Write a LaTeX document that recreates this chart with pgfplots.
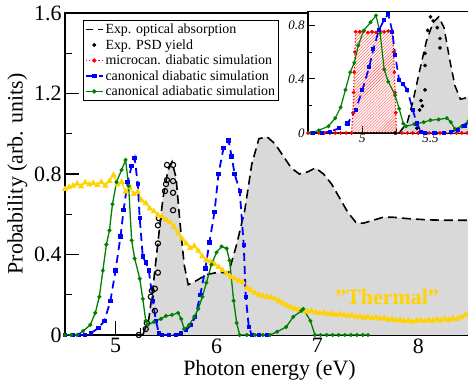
\documentclass[border=0pt]{standalone}
\usepackage{fontspec}
\setmainfont{Liberation Serif}
\usepackage{pgfplots}
\usepackage{pgfplotstable}
\pgfplotsset{compat=1.18}
\usetikzlibrary{patterns}

\definecolor{thermal}{RGB}{255,210,0}
\definecolor{dgreen}{RGB}{0,128,0}
\definecolor{lgrey}{RGB}{217,217,217}

\pgfplotstableread{
x y
5.27 0.0
5.33 0.08
5.37 0.23
5.42 0.46
5.47 0.68
5.52 0.82
5.56 0.86
5.60 0.78
5.64 0.55
5.68 0.35
5.72 0.25
5.80 0.27
5.90 0.30
6.00 0.31
6.12 0.31
6.20 0.45
6.28 0.62
6.35 0.85
6.42 0.975
6.50 0.985
6.58 0.95
6.66 0.89
6.74 0.83
6.82 0.80
6.90 0.81
6.98 0.83
7.06 0.80
7.14 0.75
7.22 0.68
7.30 0.61
7.38 0.56
7.45 0.555
7.55 0.57
7.65 0.585
7.75 0.585
7.90 0.578
8.10 0.572
8.30 0.57
8.55 0.57
}\absorb

\pgfplotstableread{
x y
5.23 0.0
5.30 0.03
5.31 0.06
5.35 0.19
5.36 0.22
5.39 0.12
5.39 0.23
5.42 0.31
5.42 0.455
5.42 0.545
5.43 0.58
5.49 0.715
5.50 0.75
5.51 0.77
5.51 0.845
5.57 0.845
5.57 0.765
5.57 0.707
5.57 0.62
}\psdmain

\pgfplotstableread{
x y
5.24 0.0
5.40 0.035
5.42 0.17
5.43 0.24
5.44 0.20
5.46 0.32
5.46 0.50
5.46 0.59
5.48 0.76
5.50 0.86
5.52 0.83
5.55 0.78
5.57 0.70
5.57 0.63
}\psdinset

\pgfplotstableread{
x y
4.50 0.0
4.58 0.0
4.64 0.0
4.70 0.0
4.76 0.01
4.83 0.035
4.89 0.07
4.95 0.17
5.00 0.32
5.05 0.49
5.08 0.62
5.12 0.76
5.16 0.84
5.19 0.88
5.22 0.75
5.24 0.58
5.27 0.39
5.30 0.36
5.33 0.32
5.37 0.17
5.40 0.07
5.43 0.01
5.46 0.0
5.53 0.0
5.60 0.0
5.65 0.01
5.70 0.025
5.75 0.05
5.79 0.09
5.84 0.20
5.89 0.33
5.93 0.46
5.98 0.61
6.02 0.80
6.07 0.93
6.12 0.967
6.15 0.886
6.18 0.80
6.23 0.716
6.27 0.447
6.29 0.19
6.32 0.04
6.35 0.0
6.42 0.0
6.50 0.0
}\diab

\pgfplotstableread{
x y
4.50 0.0
4.56 0.0
4.62 0.0
4.68 0.02
4.75 0.05
4.80 0.11
4.84 0.19
4.875 0.32
4.91 0.45
4.94 0.52
4.97 0.65
5.01 0.76
5.06 0.82
5.10 0.87
5.13 0.74
5.16 0.47
5.19 0.38
5.24 0.28
5.27 0.18
5.30 0.07
5.32 0.05
5.38 0.065
5.45 0.08
5.50 0.095
5.56 0.10
5.62 0.11
5.65 0.08
5.68 0.03
5.73 0.05
5.78 0.09
5.82 0.13
5.86 0.19
5.90 0.26
5.95 0.35
6.00 0.41
6.05 0.44
6.10 0.43
6.13 0.37
6.17 0.17
6.20 0.06
6.23 0.0
6.30 0.0
6.38 0.0
6.46 0.0
6.53 0.0
6.60 0.016
6.69 0.04
6.76 0.09
6.84 0.12
6.86 0.13
6.93 0.07
6.975 0.0
7.03 0.0
7.09 0.0
7.15 0.0
7.21 0.0
7.27 0.0
7.33 0.0
7.39 0.0
7.45 0.0
7.50 0.0
}\adiab

\pgfplotstableread{
x y
4.60 0
4.64 0
4.68 0
4.72 0
4.76 0
4.80 0
4.84 0
4.88 0
4.92 0
4.93 0.15
4.935 0.30
4.94 0.45
4.945 0.60
4.95 0.75
4.98 0.75
5.01 0.755
5.04 0.745
5.07 0.75
5.10 0.745
5.13 0.755
5.16 0.75
5.19 0.755
5.22 0.745
5.23 0.60
5.235 0.45
5.24 0.30
5.245 0.15
5.25 0
5.29 0
5.33 0
5.37 0
5.41 0
5.45 0
5.49 0
5.53 0
5.57 0
5.61 0
5.65 0
5.69 0
5.73 0
5.77 0
5.82 0
}\micro

\pgfplotstableread{
x y
4.50 0.725
4.54 0.735
4.58 0.742
4.62 0.752
4.66 0.738
4.70 0.758
4.74 0.748
4.78 0.755
4.82 0.745
4.86 0.760
4.90 0.742
4.94 0.765
4.98 0.795
5.02 0.748
5.06 0.760
5.10 0.712
5.14 0.735
5.18 0.700
5.22 0.712
5.26 0.668
5.30 0.655
5.34 0.628
5.38 0.615
5.42 0.596
5.46 0.590
5.50 0.572
5.54 0.560
5.58 0.538
5.62 0.505
5.66 0.478
5.70 0.455
5.74 0.432
5.78 0.442
5.82 0.418
5.86 0.390
5.90 0.372
5.94 0.365
5.98 0.352
6.02 0.338
6.06 0.322
6.10 0.305
6.14 0.288
6.18 0.280
6.22 0.270
6.26 0.262
6.30 0.235
6.34 0.222
6.38 0.210
6.42 0.198
6.46 0.194
6.50 0.190
6.54 0.186
6.58 0.180
6.62 0.168
6.66 0.158
6.70 0.145
6.74 0.138
6.78 0.130
6.82 0.125
6.86 0.122
6.90 0.116
6.94 0.120
6.98 0.112
7.02 0.108
7.06 0.110
7.10 0.103
7.14 0.106
7.18 0.100
7.22 0.104
7.26 0.098
7.30 0.095
7.34 0.099
7.38 0.090
7.42 0.092
7.46 0.086
7.50 0.090
7.54 0.084
7.58 0.087
7.62 0.080
7.66 0.083
7.70 0.076
7.74 0.078
7.78 0.072
7.82 0.075
7.86 0.068
7.90 0.072
7.94 0.066
7.98 0.071
8.02 0.074
8.06 0.068
8.10 0.076
8.14 0.070
8.18 0.078
8.22 0.072
8.26 0.080
8.30 0.074
8.34 0.082
8.38 0.078
8.42 0.088
8.46 0.098
8.50 0.105
}\thermaldata

\begin{document}
\begin{tikzpicture}
\begin{axis}[
  at={(65bp,50bp)}, anchor=south west,
  scale only axis, width=409bp, height=322bp,
  xmin=4.5, xmax=8.55, ymin=0, ymax=1.6,
  xtick={5,6,7,8}, ytick={0,0.4,0.8,1.2,1.6},
  minor x tick num=3, minor y tick num=1,
  tick align=inside, xtick pos=bottom, ytick pos=left,
  major tick length=14bp, minor tick length=7bp,
  every tick/.style={line width=1.2bp, black},
  axis line style={line width=1.6bp},
  /pgf/number format/assume math mode=true,
  ticklabel style={font=\fontsize{22}{24}\selectfont},
  label style={font=\fontsize{22}{24}\selectfont},
  xlabel={Photon energy (eV)},
  ylabel={Probability (arb. units)},
  legend cell align=left,
  legend style={at={(0.044,0.978)}, anchor=north west, draw=black, line width=0.8bp,
    font=\fontsize{14}{15}\selectfont, inner sep=1.5bp, row sep=0.3bp, fill=white},
]
\addlegendimage{black, dash pattern=on 7bp off 5bp, line width=1.5bp}
\addlegendentry{Exp. optical absorption}
\addlegendimage{only marks, mark=*, mark size=1.6bp, black}
\addlegendentry{Exp. PSD yield}
\addlegendimage{red, dotted, line width=1.2bp, mark=*, mark size=1.5bp, mark options={solid}}
\addlegendentry{microcan. diabatic simulation}
\addlegendimage{blue, dash pattern=on 8bp off 5bp, line width=1.6bp, mark=square*, mark size=1.5bp, mark options={solid}}
\addlegendentry{canonical diabatic simulation}
\addlegendimage{dgreen, line width=1.3bp, mark=*, mark size=1.5bp}
\addlegendentry{canonical adiabatic simulation}

\addplot[fill=lgrey, draw=none, forget plot] table {\absorb} \closedcycle;
\addplot[black, dash pattern=on 9bp off 5bp, line width=1.6bp, forget plot] table {\absorb};
\addplot[only marks, mark=o, mark size=2.6bp, black, mark options={line width=1.1bp}, forget plot] table {\psdmain};
\addplot[thermal, line width=1.4bp, mark=triangle*, mark size=2.3bp, forget plot] table {\thermaldata};
\addplot[blue, dash pattern=on 8bp off 5bp, line width=1.8bp, mark=square*, mark size=1.3bp, mark options={solid}, forget plot] table {\diab};
\addplot[dgreen, line width=1.3bp, mark=*, mark size=1.3bp, forget plot] table {\adiab};
\node[text=thermal, font=\fontsize{22}{24}\selectfont\bfseries] at (axis cs:7.69,0.19) {"Thermal"};
\end{axis}

\begin{axis}[
  at={(308bp,252bp)}, anchor=south west,
  scale only axis, width=166bp, height=121.5bp,
  xmin=4.6, xmax=5.82, ymin=0, ymax=0.9,
  xtick={5,5.5}, ytick={0,0.4,0.8},
  minor x tick num=1, minor y tick num=1,
  tick align=inside, xtick pos=bottom, ytick pos=left,
  major tick length=7bp, minor tick length=4bp,
  every tick/.style={line width=1bp, black},
  axis line style={line width=1.4bp},
  axis background/.style={fill=white},
  /pgf/number format/assume math mode=true,
  ticklabel style={font=\fontsize{13}{15}\selectfont\itshape},
  xticklabel style={yshift=2bp},
]
\addplot[fill=lgrey, draw=none] table {\absorb} \closedcycle;
\addplot[pattern=north east lines, pattern color=red!70, draw=none] table {\micro} \closedcycle;
\addplot[red, dotted, line width=1.2bp, mark=*, mark size=1.2bp, mark options={solid}] table {\micro};
\addplot[dgreen, line width=1.2bp, mark=*, mark size=1.3bp] table {\adiab};
\addplot[blue, dash pattern=on 8bp off 5bp, line width=1.7bp, mark=square*, mark size=1.2bp, mark options={solid}] table {\diab};
\addplot[black, dash pattern=on 8bp off 5bp, line width=1.5bp] table {\absorb};
\addplot[only marks, mark=*, mark size=1.7bp, black] table {\psdinset};
\end{axis}
\pgfresetboundingbox
\path[use as bounding box] (0,0) rectangle (468bp,385bp);
\end{tikzpicture}
\end{document}
